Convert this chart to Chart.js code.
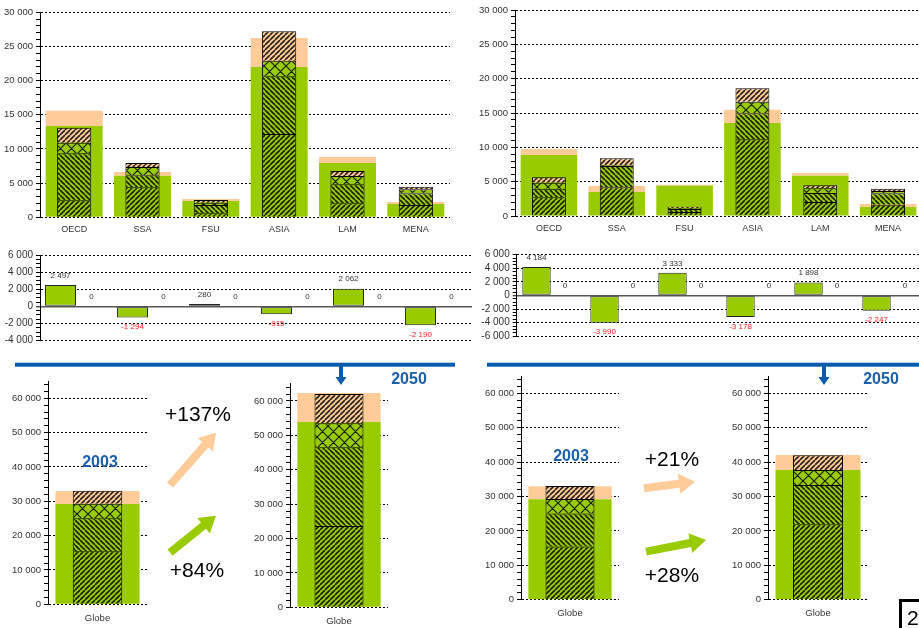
<!DOCTYPE html>
<html lang="fr">
<head>
<meta charset="utf-8">
<title>Bilan offre / demande</title>
<script src="https://cdn.jsdelivr.net/npm/chart.js@4.4.1/dist/chart.umd.min.js"></script>
<style>
  html, body { margin: 0; padding: 0; background: #fff; }
  body { position: relative; width: 919px; height: 628px; overflow: hidden;
         font-family: "Liberation Sans", Arial, sans-serif; }
  canvas { position: absolute; }
  svg { position: absolute; left: 0; top: 0; }
</style>
</head>
<body>
<canvas id="topA" width="460" height="240" style="left:0;top:0"></canvas>
<canvas id="topB" width="470" height="240" style="left:460px;top:0"></canvas>
<canvas id="balA" width="480" height="110" style="left:0;top:240px"></canvas>
<canvas id="balB" width="470" height="110" style="left:460px;top:240px"></canvas>
<canvas id="globeA03" width="160" height="268" style="left:0;top:360px"></canvas>
<canvas id="globeA50" width="160" height="268" style="left:240px;top:360px"></canvas>
<canvas id="globeB03" width="160" height="268" style="left:470px;top:360px"></canvas>
<canvas id="globeB50" width="165" height="268" style="left:715px;top:360px"></canvas>

<svg id="deco" width="919" height="628" xmlns="http://www.w3.org/2000/svg">
  <rect x="15" y="362.7" width="440" height="4" fill="#0B5CAB"/>
  <rect x="487" y="362.7" width="432" height="4" fill="#0B5CAB"/>
  <polygon points="339,366 343,366 343,377 346.5,377 341,385 335.5,377 339,377" fill="#0B5CAB"/>
  <polygon points="822,366 826,366 826,377 829.5,377 824,385 818.5,377 822,377" fill="#0B5CAB"/>
  <g font-family="Liberation Sans, Arial, sans-serif" font-weight="bold" font-size="16" fill="#1A5FAB" text-anchor="middle">
    <text x="409" y="384">2050</text>
    <text x="881" y="384">2050</text>
    <text x="100" y="467">2003</text>
    <text x="571" y="461">2003</text>
  </g>
  <g id="bigArrows"></g>
  <g font-family="Liberation Sans, Arial, sans-serif" font-size="21" fill="#000" text-anchor="middle">
    <text x="198" y="421">+137%</text>
    <text x="197" y="577">+84%</text>
    <text x="672" y="466">+21%</text>
    <text x="672" y="582">+28%</text>
  </g>
  <path d="M900.5 628 V600.5 H919" fill="none" stroke="#000" stroke-width="3"/>
  <text x="907" y="625" font-family="Liberation Sans, Arial, sans-serif" font-size="21" fill="#000">2</text>
</svg>

<script>
// ---- Données -----------------------------------------------------------

const REGIONS = ['OECD', 'SSA', 'FSU', 'ASIA', 'LAM', 'MENA'];
const GLOBE   = ['Globe'];

// Scénario A (gauche) : offre (barre large) et demande (barre hachurée)
const supplyA    = [13360, 6090, 2390, 22000, 7950, 1950];
const supplyTopA = [2240, 540, 290, 4240, 880, 290];
const demandA1   = [2490, 4390, 590, 12200, 2050, 1800];
const demandA2   = [6880, 1760, 1210, 8440, 2780, 1710];
const demandA3   = [1550, 1210, 340, 2280, 1210, 590];
const demandA4   = [2190, 590, 390, 4300, 740, 380];
const balanceA   = [2497, -1294, 280, -915, 2062, -2190];
const spareA     = [0, 0, 0, 0, 0, 0];

// Scénario B (droite)
const supplyB    = [8880, 3500, 4410, 13540, 5870, 1310];
const supplyTopB = [880, 870, 150, 1940, 390, 440];
const demandB1   = [2720, 4180, 600, 11170, 2040, 1650];
const demandB2   = [1260, 3100, 420, 3790, 1310, 1660];
const demandB3   = [870, 150, 150, 1690, 680, 330];
const demandB4   = [780, 970, 180, 1950, 440, 340];
const balanceB   = [4184, -3990, 3333, -3178, 1898, -2247];
const spareB     = [0, 0, 0, 0, 0, 0];

// Monde
const globe2003Supply    = [29200];
const globe2003SupplyTop = [3800];
const globe2003Demand    = [[15450], [9600], [4250], [3750]];

const globeA2050Supply    = [53890];
const globeA2050SupplyTop = [8440];
const globeA2050Demand    = [[23650], [22880], [6980], [8530]];

const globeB2050Supply    = [37700];
const globeB2050SupplyTop = [4370];
const globeB2050Demand    = [[21920], [11430], [4360], [4270]];

// ---- Styles ------------------------------------------------------------

const GREEN  = '#99CC00';
const ORANGE = '#FFCC99';
const FONT   = '"Liberation Sans", Arial, sans-serif';

Chart.defaults.font.family = FONT;

/**
 * Motif de hachures pour les segments de la demande.
 * @param {string} bg   couleur de fond
 * @param {string} kind '/', '\\' ou 'x'
 */
function hatch(bg, kind, size, lw) {
    const c = document.createElement('canvas');
    c.width = c.height = size;
    const g = c.getContext('2d');
    g.fillStyle = bg;
    g.fillRect(0, 0, size, size);
    g.strokeStyle = 'rgba(0,0,0,0.85)';
    g.lineWidth = lw;
    g.beginPath();
    for (let k = -1; k <= 1; k++) {
        const x = k * size;
        if (kind !== '\\') { g.moveTo(x, size); g.lineTo(x + size, 0); }
        if (kind !== '/')  { g.moveTo(x, 0);    g.lineTo(x + size, size); }
    }
    g.stroke();
    return g.createPattern(c, 'repeat');
}

const FILLS = [
    hatch(GREEN, '/', 5, 1.6),
    hatch(GREEN, '\\', 5, 1.6),
    hatch(GREEN, 'x', 11, 1.2),
    hatch(ORANGE, '/', 5, 1.6)
];

function fmt(v) {
    const s = Math.abs(Math.round(v)).toString().replace(/\B(?=(\d{3})+(?!\d))/g, ' ');
    return (v < 0 ? '-' : '') + s;
}

// ---- Axes --------------------------------------------------------------

function yAxis(o) {
    const isZero = c => o.zeroSolid && c.tick && c.tick.value === 0;
    const minor  = o.minor || o.step;
    return {
        min: o.min, max: o.max, stacked: o.stacked,
        afterFit: s => { s.width = o.width; },
        border: { display: true, color: '#000', width: 1, dash: c => isZero(c) ? [] : [2, 2] },
        grid: {
            color: c => {
                if (!c.tick || c.tick.value % o.major !== 0) return 'rgba(0,0,0,0)';
                return isZero(c) ? '#555' : '#000';
            },
            lineWidth: c => isZero(c) ? 1.5 : 1,
            tickColor: c => (c.tick && c.tick.value % minor === 0) ? '#000' : 'rgba(0,0,0,0)',
            tickLength: 4, tickWidth: 1
        },
        ticks: {
            stepSize: o.step, autoSkip: false, padding: 3, color: '#333',
            font: { size: o.font },
            callback: v => (v % o.major === 0 ? fmt(v) : '')
        }
    };
}

const baseOptions = (padding) => ({
    responsive: false, animation: false, events: [], devicePixelRatio: 1,
    layout: { padding },
    plugins: { legend: { display: false }, tooltip: { enabled: false } }
});

// ---- Barres offre / demande ------------------------------------------

function stackChart(id, labels, segs, supply, supplyTop, o) {
    const narrow = segs.map((data, k) => ({
        data, stack: 'demand', grouped: false, backgroundColor: FILLS[k],
        borderColor: '#000', borderWidth: 1,
        barPercentage: 0.5, categoryPercentage: 1
    }));
    const wide = [supply, supplyTop].map((data, k) => ({
        data, stack: 'supply', grouped: false, backgroundColor: k ? ORANGE : GREEN, borderWidth: 0,
        barPercentage: o.wide, categoryPercentage: 1
    }));
    return new Chart(document.getElementById(id), {
        type: 'bar',
        data: { labels, datasets: narrow.concat(wide) },
        options: {
            ...baseOptions(o.padding),
            scales: {
                x: {
                    stacked: true, offset: true,
                    afterFit: s => { s.height = o.xHeight; },
                    border: { display: false },
                    grid: { display: false, drawTicks: false },
                    ticks: { padding: o.labelPad, color: '#333', font: { size: o.xFont } }
                },
                y: yAxis({ min: 0, max: o.max, step: o.step, minor: o.minor, major: o.major,
                           width: o.yWidth, font: o.yFont, stacked: true })
            }
        }
    });
}

// ---- Barres de solde ---------------------------------------------------

const balanceLabels = {
    id: 'balanceLabels',
    afterDatasetsDraw(chart) {
        const ctx = chart.ctx;
        ctx.save();
        ctx.font = '8px ' + FONT;
        ctx.textAlign = 'center';
        ctx.textBaseline = 'middle';
        chart.data.datasets.forEach((ds, di) => {
            chart.getDatasetMeta(di).data.forEach((bar, i) => {
                const v = ds.data[i];
                ctx.fillStyle = v < 0 ? '#FF2020' : '#333';
                ctx.fillText(fmt(v), bar.x, v < 0 ? bar.y + 9.5 : bar.y - 9.5);
            });
        });
        ctx.restore();
    }
};

function balanceChart(id, labels, values, spare, o) {
    return new Chart(document.getElementById(id), {
        type: 'bar',
        data: {
            labels,
            datasets: [
                { data: values, backgroundColor: GREEN, borderColor: '#222', borderWidth: 1,
                  borderSkipped: false, barPercentage: 1, categoryPercentage: o.cat },
                { data: spare, backgroundColor: 'rgba(0,0,0,0)', borderWidth: 0,
                  barPercentage: 1, categoryPercentage: o.cat }
            ]
        },
        options: {
            ...baseOptions(o.padding),
            scales: {
                x: { display: false, offset: true },
                y: yAxis({ min: o.min, max: o.max, step: 500, major: 2000,
                           width: o.yWidth, font: 10, zeroSolid: true })
            }
        },
        plugins: [balanceLabels]
    });
}

// ---- Graphiques --------------------------------------------------------

stackChart('topA', REGIONS, [demandA1, demandA2, demandA3, demandA4], supplyA, supplyTopA, {
    wide: 0.834, max: 30000, step: 1000, major: 5000, yWidth: 40, yFont: 9.5,
    xFont: 9, xHeight: 22.7, labelPad: 7,
    padding: { top: 12.3, right: 10, bottom: 0, left: 0 }
});
stackChart('topB', REGIONS, [demandB1, demandB2, demandB3, demandB4], supplyB, supplyTopB, {
    wide: 0.834, max: 30000, step: 1000, major: 5000, yWidth: 55, yFont: 9.5,
    xFont: 9, xHeight: 24, labelPad: 7,
    padding: { top: 10, right: 8, bottom: 0, left: 0 }
});

balanceChart('balA', REGIONS, balanceA, spareA, {
    min: -4000, max: 6000, yWidth: 40, cat: 0.86,
    padding: { top: 15, right: 8, bottom: 9.3, left: 0 }
});
balanceChart('balB', REGIONS, balanceB, spareB, {
    min: -6000, max: 6000, yWidth: 56.7, cat: 0.835,
    padding: { top: 14.7, right: 5.3, bottom: 13.7, left: 0 }
});

const globeOpts = (yWidth, top, xHeight, right) => ({
    wide: 0.85, max: 65000, step: 1000, minor: 2000, major: 10000, yWidth, yFont: 9.5,
    xFont: 9.5, xHeight, labelPad: 8,
    padding: { top, right, bottom: 0, left: 0 }
});

stackChart('globeA03', GLOBE, globe2003Demand, globe2003Supply, globe2003SupplyTop,
    globeOpts(48, 21.1, 23.7, 13));
stackChart('globeA50', GLOBE, globeA2050Demand, globeA2050Supply, globeA2050SupplyTop,
    globeOpts(50, 23.8, 20.7, 12));
stackChart('globeB03', GLOBE, globe2003Demand, globe2003Supply, globe2003SupplyTop,
    globeOpts(51, 16.1, 28.3, 11));
stackChart('globeB50', GLOBE, globeB2050Demand, globeB2050Supply, globeB2050SupplyTop,
    globeOpts(53, 16.1, 28.3, 12));

// ---- Flèches d'évolution ----------------------------------------------

function arrowPoints(x1, y1, x2, y2, shaft, headW, headL) {
    const dx = x2 - x1, dy = y2 - y1;
    const len = Math.hypot(dx, dy);
    const ux = dx / len, uy = dy / len, nx = -uy, ny = ux;
    const bx = x2 - ux * headL, by = y2 - uy * headL;
    const p = [
        [x1 + nx * shaft / 2, y1 + ny * shaft / 2],
        [bx + nx * shaft / 2, by + ny * shaft / 2],
        [bx + nx * headW / 2, by + ny * headW / 2],
        [x2, y2],
        [bx - nx * headW / 2, by - ny * headW / 2],
        [bx - nx * shaft / 2, by - ny * shaft / 2],
        [x1 - nx * shaft / 2, y1 - ny * shaft / 2]
    ];
    return p.map(q => q[0].toFixed(1) + ',' + q[1].toFixed(1)).join(' ');
}

const arrows = [
    [170, 485, 216, 432.7, ORANGE],
    [170, 552.7, 216, 515.7, GREEN],
    [644, 488.3, 695, 481.7, ORANGE],
    [646, 551.7, 706, 540, GREEN]
];
const group = document.getElementById('bigArrows');
arrows.forEach(([x1, y1, x2, y2, col]) => {
    const poly = document.createElementNS('http://www.w3.org/2000/svg', 'polygon');
    poly.setAttribute('points', arrowPoints(x1, y1, x2, y2, 8, 20, 16));
    poly.setAttribute('fill', col);
    group.appendChild(poly);
});
</script>
</body>
</html>
